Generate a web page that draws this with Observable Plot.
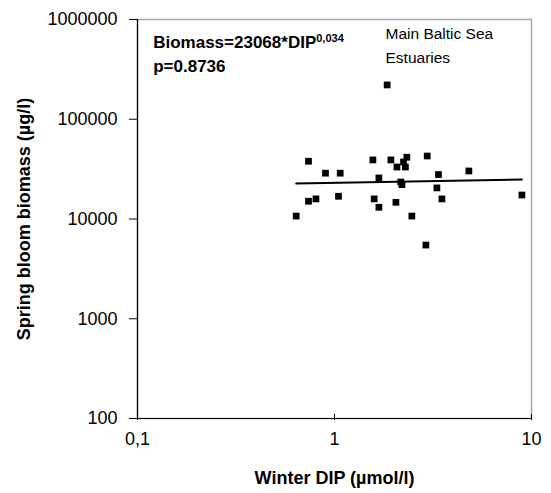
<!DOCTYPE html>
<html>
<head>
<meta charset="utf-8">
<script src="https://cdn.jsdelivr.net/npm/d3@7"></script>
<script src="https://cdn.jsdelivr.net/npm/@observablehq/plot@0.6"></script>
<style>
  html, body { margin: 0; padding: 0; background: #fff; }
  #chart svg { display: block; }
</style>
</head>
<body>
<div id="chart"></div>
<script>
// Winter DIP (µmol/l) for each estuary
const dip = [0.738, 0.90, 1.069, 1.566, 1.933, 2.074, 2.24, 2.29, 2.33, 2.955, 3.37, 4.81,
             1.68, 2.17, 2.20, 3.31, 8.94, 0.738, 0.805, 1.048, 1.59, 1.68, 2.05, 3.51,
             0.639, 2.47, 2.91, 1.85];
// Spring bloom biomass (µg/l)
const biomass = [37900, 28800, 28800, 39100, 39100, 33200, 37300, 33200, 41600, 42800, 27900, 30300,
                 25800, 23500, 22100, 20500, 17400, 15060, 15900, 16900, 15900, 13100, 14700, 15900,
                 10700, 10700, 5480, 220800];
// Power-law fit stated on the chart: Biomass = a * DIP^b
const fitA = 23068;
const fitB = 0.034;
const xTicks = [0.1, 1, 10];
const xTickLabels = ["0,1", "1", "10"];
const yTicks = [100, 1000, 10000, 100000, 1000000];
const yTickLabels = ["100", "1000", "10000", "100000", "1000000"];

const points = dip.map((d, i) => ({dip: d, biomass: biomass[i]}));
const ext = d3.extent(dip);
const fit = ext.map(x => ({dip: x, biomass: fitA * Math.pow(x, fitB)}));
const xLabelOf = new Map(xTicks.map((t, i) => [t, xTickLabels[i]]));
const yLabelOf = new Map(yTicks.map((t, i) => [t, yTickLabels[i]]));

const font = "'Liberation Sans', Arial, Helvetica, sans-serif";

const chart = Plot.plot({
  width: 551,
  height: 493,
  marginLeft: 137,
  marginRight: 20,
  marginTop: 19,
  marginBottom: 75,
  style: {fontFamily: font, fontSize: "18px", color: "#000", background: "#fff"},
  x: {type: "log", domain: [0.1, 10]},
  y: {type: "log", domain: [100, 1000000]},
  marks: [
    Plot.frame({stroke: "#a6a6a6", strokeWidth: 1.5}),
    Plot.ruleX([0.1], {stroke: "#000", strokeWidth: 1.2}),
    Plot.ruleY([100], {stroke: "#000", strokeWidth: 1.2}),
    Plot.axisY({ticks: yTicks, tickFormat: d => yLabelOf.get(d), tickSize: 8, tickPadding: 12, label: null, fontSize: 18}),
    Plot.ruleX(xTicks, {y1: 100, y2: 100, insetTop: -4, insetBottom: -2, stroke: "#000"}),
    Plot.axisX({ticks: xTicks, tickFormat: d => xLabelOf.get(d), tickSize: 0, tickPadding: 14, label: null, fontSize: 18}),
    Plot.line(fit, {x: "dip", y: "biomass", stroke: "#000", strokeWidth: 2}),
    Plot.dot(points, {x: "dip", y: "biomass", symbol: "square", r: 3.8, fill: "#000", stroke: "none"}),
    Plot.text(["Spring bloom biomass (µg/l)"], {frameAnchor: "left", dx: -113.5, rotate: -90, textAnchor: "middle", fontSize: 18, fontWeight: "bold"}),
    Plot.text(["Winter DIP (µmol/l)"], {frameAnchor: "bottom", dy: 65, textAnchor: "middle", fontSize: 18, fontWeight: "bold"}),
    Plot.text(["Biomass=23068*DIP"], {frameAnchor: "top-left", dx: 15.7, dy: 23, textAnchor: "start", lineAnchor: "middle", fontSize: 17, fontWeight: "bold", className: "eqn"}),
    Plot.text(["p=0.8736"], {frameAnchor: "top-left", dx: 15.7, dy: 47, textAnchor: "start", lineAnchor: "middle", fontSize: 17, fontWeight: "bold"}),
    Plot.text(["Main Baltic Sea"], {frameAnchor: "top-left", dx: 248, dy: 14.5, textAnchor: "start", lineAnchor: "middle", fontSize: 15.5}),
    Plot.text(["Estuaries"], {frameAnchor: "top-left", dx: 248, dy: 38.5, textAnchor: "start", lineAnchor: "middle", fontSize: 15.5})
  ]
});

// superscript exponent of the fitted equation
d3.select(chart).selectAll("g.eqn text").each(function() {
  d3.select(this).append("tspan")
    .attr("dy", "-0.55em")
    .attr("font-size", 11)
    .text("0,034");
});

document.getElementById("chart").appendChild(chart);
</script>
</body>
</html>
